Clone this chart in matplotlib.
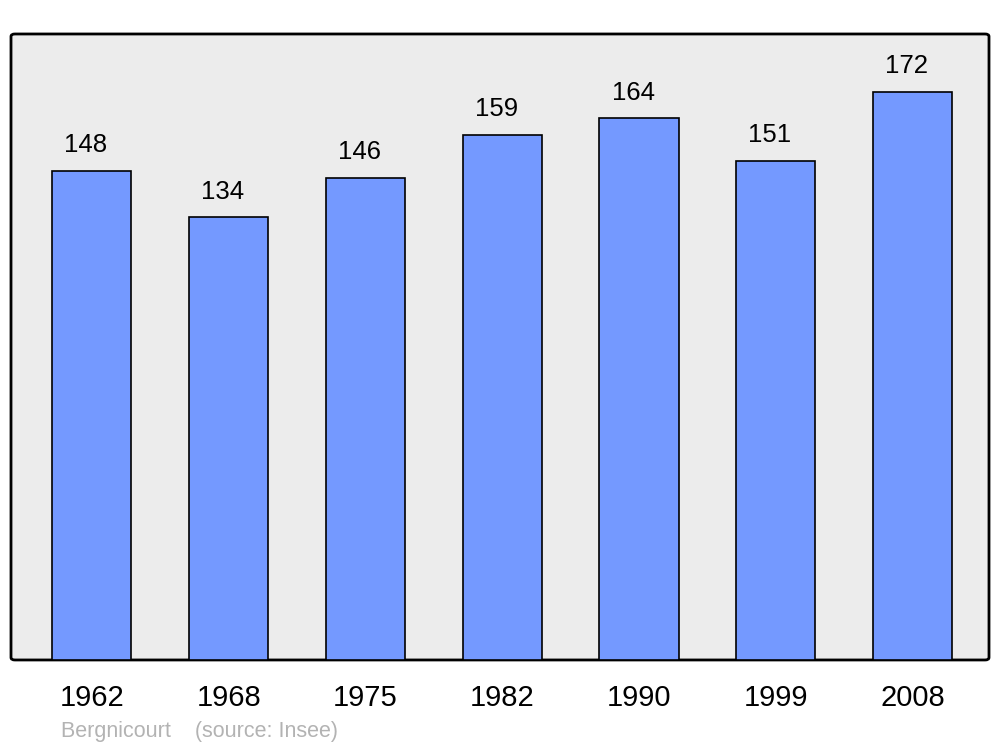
import matplotlib.pyplot as plt
from matplotlib.patches import FancyBboxPatch

plt.rcParams['font.family'] = ['Liberation Sans', 'DejaVu Sans']

years = ["1962", "1968", "1975", "1982", "1990", "1999", "2008"]
population = [148, 134, 146, 159, 164, 151, 172]
source_text = "Bergnicourt    (source: Insee)"

fig = plt.figure(figsize=(10, 7.47), dpi=100)
ax = fig.add_axes([0.011, 0.1165, 0.978, 0.838])
ax.set_facecolor("none")

# rounded frame drawn behind everything
frame = FancyBboxPatch((0, 0), 1, 1, boxstyle="round,pad=0,rounding_size=0.004",
                       transform=ax.transAxes, facecolor="#ececec", edgecolor="black",
                       linewidth=2, zorder=0, clip_on=False)
ax.add_patch(frame)

x = list(range(len(years)))
ax.bar(x, population, width=0.578, color="#7499ff", edgecolor="black", linewidth=1.2, zorder=2)

# value labels sit a little left of the bar centre, as in the original
for xi, v in zip(x, population):
    ax.annotate(str(v), (xi, v), xytext=(-4.3, 18.5), textcoords="offset points",
                ha="center", va="center", fontsize=18.5)

ax.set_xlim(-0.592, 6.559)
ax.set_ylim(0, 189.5)
ax.set_xticks(x)
ax.set_xticklabels(years, fontsize=21)
ax.tick_params(axis="x", length=0, pad=17)
ax.set_yticks([])
for s in ax.spines.values():
    s.set_visible(False)

fig.text(0.061, 1 - 732 / 747, source_text, color="#b3b3b3", fontsize=15.5, va="center", ha="left")

fig.savefig("out.png", dpi=100)
